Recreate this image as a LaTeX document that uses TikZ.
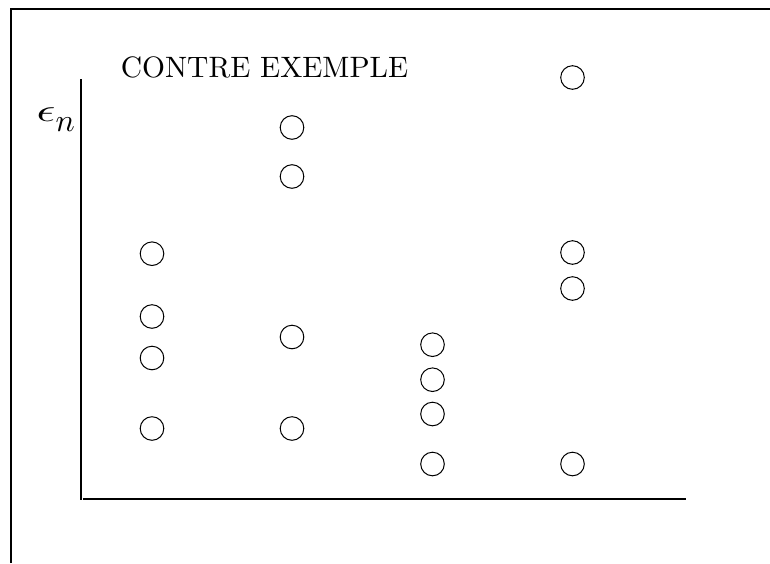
\documentclass[tikz,border=0pt]{standalone}
\begin{document}
\begin{tikzpicture}[x=1pt,y=-1pt,
  pt/.style={draw,circle,inner sep=0pt,minimum size=23.6pt,line width=1pt},
  frame/.style={line width=2pt},
  axis/.style={line width=2pt},
  bigtext/.style={inner sep=0pt,font=\fontsize{10}{12}\selectfont,scale=2.95},
  mathlabel/.style={inner sep=0pt,font=\fontsize{10}{12}\selectfont,scale=3.2}]
\useasboundingbox (0,0) rectangle (770,563);
% frame
\coordinate (fbl) at (11,563);
\coordinate (ftl) at (11,9);
\coordinate (ftr) at (770,9);
\draw[frame] (fbl) -- (ftl) -- (ftr);
% axes
\coordinate (ytop) at (80.5,79);
\coordinate (ybot) at (80.5,499.8);
\coordinate (xl) at (83,498.8);
\coordinate (xr) at (686,498.8);
\draw[axis] (ytop) -- (ybot);
\draw[axis] (xl) -- (xr);
% texts
\node[bigtext,anchor=base] (title) at (264.5,77.7) {CONTRE EXEMPLE};
\node[mathlabel,anchor=base west] (eps) at (36,121.7) {$\scalebox{1.46}[1]{$\epsilon$}\raisebox{-3.1pt}{$n$}$};
% column 1
\node[pt] (a1) at (152,253.7) {};
\node[pt] (a2) at (152,316.5) {};
\node[pt] (a3) at (152,358) {};
\node[pt] (a4) at (152,428.5) {};
% column 2
\node[pt] (b1) at (292,127.5) {};
\node[pt] (b2) at (292,176.5) {};
\node[pt] (b3) at (292,337) {};
\node[pt] (b4) at (292,428.5) {};
% column 3
\node[pt] (c1) at (432.5,344.7) {};
\node[pt] (c2) at (432.5,379.7) {};
\node[pt] (c3) at (432.5,414) {};
\node[pt] (c4) at (432.5,464) {};
% column 4
\node[pt] (d1) at (572.5,77.5) {};
\node[pt] (d2) at (572.5,252.5) {};
\node[pt] (d3) at (572.5,288.5) {};
\node[pt] (d4) at (572.5,464) {};
\end{tikzpicture}
\end{document}
